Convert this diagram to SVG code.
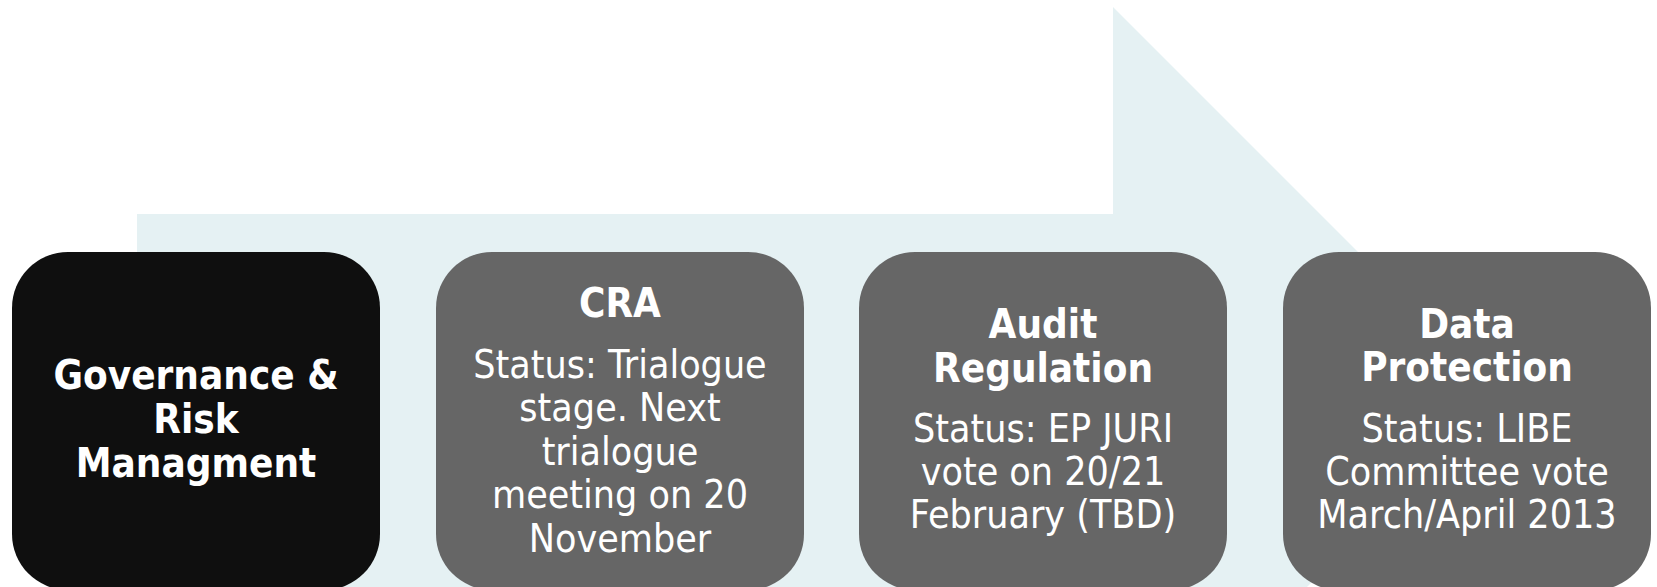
<svg xmlns="http://www.w3.org/2000/svg" width="1657" height="587" viewBox="0 0 1657 587">
  <style>
    .box-dark { fill: #0F0F0F; }
    .box { fill: #666666; }
    .t { font-family: "DejaVu Sans Condensed", "DejaVu Sans", sans-serif; font-stretch: condensed; font-size: 39px; fill: #FFFFFF; text-anchor: middle; }
    .b { font-weight: bold; font-size: 40px; }
  </style>
  <rect x="0" y="0" width="1657" height="587" fill="#FFFFFF"/>
  <g id="background-arrow">
    <polygon points="137,214 1113,214 1113,7 1500,394 1300,594 137,594" fill="#E5F1F3"/>
  </g>
  <g id="connectors"></g>
  <g id="node-governance">
    <rect class="box-dark" x="12" y="252" width="368" height="338" rx="56" ry="56"/>
    <text class="t b" x="196" y="389">Governance &amp;</text>
    <text class="t b" x="196" y="433">Risk</text>
    <text class="t b" x="196" y="477">Managment</text>
  </g>
  <g id="node-cra">
    <rect class="box" x="436" y="252" width="368" height="338" rx="56" ry="56"/>
    <text class="t b" x="620" y="317">CRA</text>
    <text class="t" x="620" y="378">Status: Trialogue</text>
    <text class="t" x="620" y="421">stage. Next</text>
    <text class="t" x="620" y="465">trialogue</text>
    <text class="t" x="620" y="508">meeting on 20</text>
    <text class="t" x="620" y="552">November</text>
  </g>
  <g id="node-audit">
    <rect class="box" x="859" y="252" width="368" height="338" rx="56" ry="56"/>
    <text class="t b" x="1043" y="338">Audit</text>
    <text class="t b" x="1043" y="382">Regulation</text>
    <text class="t" x="1043" y="442">Status: EP JURI</text>
    <text class="t" x="1043" y="485">vote on 20/21</text>
    <text class="t" x="1043" y="528">February (TBD)</text>
  </g>
  <g id="node-data">
    <rect class="box" x="1283" y="252" width="368" height="338" rx="56" ry="56"/>
    <text class="t b" x="1467" y="338">Data</text>
    <text class="t b" x="1467" y="381">Protection</text>
    <text class="t" x="1467" y="442">Status: LIBE</text>
    <text class="t" x="1467" y="485">Committee vote</text>
    <text class="t" x="1467" y="528">March/April 2013</text>
  </g>
</svg>
